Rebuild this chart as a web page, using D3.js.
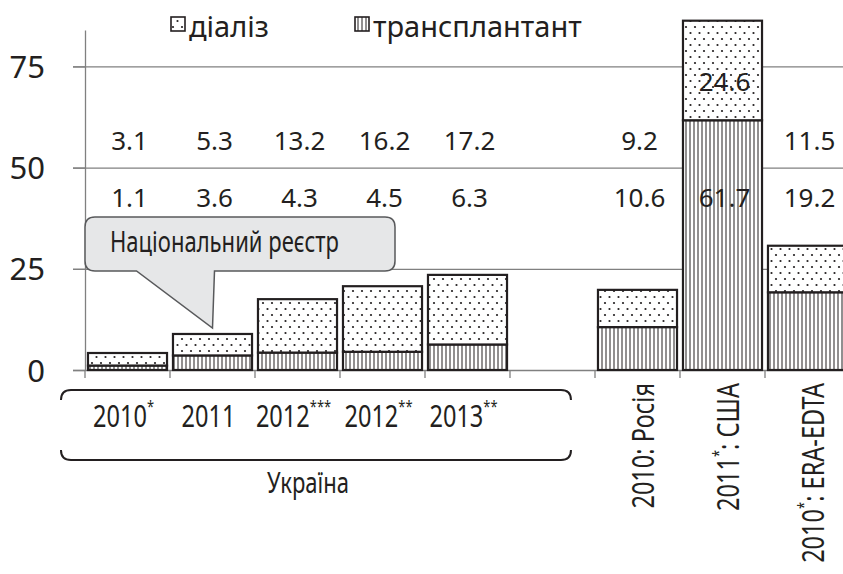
<!DOCTYPE html>
<html>
<head>
<meta charset="utf-8">
<script src="https://cdn.jsdelivr.net/npm/d3@7"></script>
<style>
  body { margin: 0; background: #fff; }
  svg { display: block; }
</style>
</head>
<body>
<svg id="chart" width="843" height="574"></svg>
<script>
// --- data ---
const categories = ['ua2010', 'ua2011', 'ua2012a', 'ua2012b', 'ua2013', 'gap', 'ru2010', 'us2011', 'era2010'];
const yearLabels = ['2010', '2011', '2012', '2012', '2013', '', '2010', '2011', '2010'];
const footnotes = ['*', '', '***', '**', '**', '', '', '*', '*'];
const regionLabels = ['', '', '', '', '', '', ': Росія', ': США', ': ERA-EDTA'];
const transplant = [1.1, 3.6, 4.3, 4.5, 6.3, null, 10.6, 61.7, 19.2];
const dialysis = [3.1, 5.3, 13.2, 16.2, 17.2, null, 9.2, 24.6, 11.5];
const yTicks = [0, 25, 50, 75];
const legendLabels = ['діаліз', 'трансплантант'];
const calloutText = 'Національний реєстр';
const groupLabel = 'Україна';

const W = 843, H = 574;
const ink = '#231f20';
const gridColor = '#808080';
const sans = "'Noto Sans', 'Open Sans', sans-serif";
const squeeze = 0.76; // the source font is a condensed one

const svg = d3.select('#chart');

const x = d3.scaleBand()
  .domain(categories)
  .range([85, 850])
  .paddingInner(0.07)
  .paddingOuter(0.035);

const y = d3.scaleLinear()
  .domain([0, 84])
  .range([370, 30]);

const table = categories.map((c, i) => ({
  key: c, i,
  transplant: transplant[i],
  dialysis: dialysis[i]
}));
const bars = table.filter(d => d.transplant != null);

// condensed text helper: text drawn at origin of a squeezed group
function narrowText(parent, tx, ty, size, rotate = 0) {
  return parent.append('text')
    .attr('transform', `translate(${tx},${ty}) rotate(${rotate}) scale(${squeeze},1)`)
    .attr('font-family', sans)
    .attr('font-size', size)
    .attr('fill', ink);
}

// patterns
const defs = svg.append('defs');
const dots = defs.append('pattern')
  .attr('id', 'dots')
  .attr('patternUnits', 'userSpaceOnUse')
  .attr('width', 9)
  .attr('height', 12);
dots.append('rect').attr('width', 9).attr('height', 12).attr('fill', '#fff');
dots.append('circle').attr('cx', 2).attr('cy', 3).attr('r', 1.1).attr('fill', ink);
dots.append('circle').attr('cx', 6.5).attr('cy', 9).attr('r', 1.1).attr('fill', ink);

const stripes = defs.append('pattern')
  .attr('id', 'stripes')
  .attr('patternUnits', 'userSpaceOnUse')
  .attr('width', 4)
  .attr('height', 4);
stripes.append('rect').attr('width', 4).attr('height', 4).attr('fill', '#fff');
stripes.append('line')
  .attr('x1', 2).attr('x2', 2).attr('y1', 0).attr('y2', 4)
  .attr('stroke', ink).attr('stroke-width', 1);

// grid lines
svg.append('g')
  .attr('class', 'grid')
  .attr('transform', 'translate(73,0)')
  .call(d3.axisRight(y).tickValues(yTicks).tickSize(W - 73).tickFormat(''))
  .call(g => g.select('.domain').remove())
  .selectAll('line')
  .attr('stroke', gridColor)
  .attr('stroke-width', 1.3);

// y axis
const yAxis = svg.append('g')
  .attr('class', 'y-axis')
  .attr('transform', 'translate(85,0)')
  .call(d3.axisLeft(y).tickValues(yTicks).tickSize(12).tickSizeOuter(0).tickPadding(28));
yAxis.select('.domain').attr('stroke', gridColor).attr('stroke-width', 1.3);
yAxis.selectAll('line').attr('stroke', gridColor).attr('stroke-width', 1.3);
yAxis.selectAll('text')
  .attr('font-family', sans)
  .attr('font-size', 31)
  .attr('fill', ink)
  .attr('dy', '0.36em');

// category boundary ticks
const gapHalf = (x.step() - x.bandwidth()) / 2;
const bounds = categories.map(c => x(c) - gapHalf).concat([x(categories[categories.length - 1]) + x.bandwidth() + gapHalf]);
svg.append('g')
  .attr('class', 'x-ticks')
  .selectAll('line')
  .data(bounds)
  .join('line')
  .attr('x1', d => d).attr('x2', d => d)
  .attr('y1', y(0)).attr('y2', y(0) + 8)
  .attr('stroke', gridColor)
  .attr('stroke-width', 1.3);

// bars
const barG = svg.append('g').attr('class', 'bars');
barG.selectAll('.seg-t')
  .data(bars)
  .join('rect')
  .attr('class', 'seg-t')
  .attr('x', d => x(d.key))
  .attr('width', x.bandwidth())
  .attr('y', d => y(d.transplant))
  .attr('height', d => y(0) - y(d.transplant))
  .attr('fill', 'url(#stripes)')
  .attr('stroke', ink)
  .attr('stroke-width', 2.2);

barG.selectAll('.seg-d')
  .data(bars)
  .join('rect')
  .attr('class', 'seg-d')
  .attr('x', d => x(d.key))
  .attr('width', x.bandwidth())
  .attr('y', d => y(d.transplant + d.dialysis))
  .attr('height', d => y(d.transplant) - y(d.transplant + d.dialysis))
  .attr('fill', 'url(#dots)')
  .attr('stroke', ink)
  .attr('stroke-width', 2.2);

// value labels: two rows, unless the bar reaches the row
const dialRowY = 150, transRowY = 207;
const labG = svg.append('g')
  .attr('class', 'value-labels')
  .attr('font-family', sans)
  .attr('font-size', 26)
  .attr('fill', ink)
  .attr('text-anchor', 'middle');

labG.selectAll('.lab-d')
  .data(bars)
  .join('text')
  .attr('class', 'lab-d')
  .attr('x', d => x(d.key) + x.bandwidth() / 2 + 2)
  .attr('y', d => {
    const top = y(d.transplant + d.dialysis);
    if (top < dialRowY) return y(d.transplant + d.dialysis * 0.4) + 11;
    return dialRowY;
  })
  .text(d => d.dialysis);

labG.selectAll('.lab-t')
  .data(bars)
  .join('text')
  .attr('class', 'lab-t')
  .attr('x', d => x(d.key) + x.bandwidth() / 2 + 2)
  .attr('y', transRowY)
  .text(d => d.transplant);

// callout "Національний реєстр"
const tipX = x('ua2011') + x.bandwidth() / 2;
const tipY = y(transplant[1] + dialysis[1]) - 6;
const cL = 85, cR = 395, cT = 217, cB = 271, r = 10;
const callout = d3.path();
callout.moveTo(cL + r, cT);
callout.lineTo(cR - r, cT);
callout.quadraticCurveTo(cR, cT, cR, cT + r);
callout.lineTo(cR, cB - r);
callout.quadraticCurveTo(cR, cB, cR - r, cB);
callout.lineTo(tipX + 2, cB);
callout.lineTo(tipX, tipY);
callout.lineTo(tipX - 76, cB);
callout.lineTo(cL + r, cB);
callout.quadraticCurveTo(cL, cB, cL, cB - r);
callout.lineTo(cL, cT + r);
callout.quadraticCurveTo(cL, cT, cL + r, cT);
callout.closePath();
svg.append('path')
  .attr('d', callout.toString())
  .attr('fill', '#e6e7e8')
  .attr('stroke', '#58595b')
  .attr('stroke-width', 1.5);
narrowText(svg, 110, 252, 29).text(calloutText);

// x labels
const xlabG = svg.append('g').attr('class', 'x-labels');

categories.forEach((c, i) => {
  if (!yearLabels[i]) return;
  const cx = x(c) + x.bandwidth() / 2;
  if (!regionLabels[i]) {
    const t = narrowText(xlabG, cx - 4, 427, 31).attr('text-anchor', 'middle');
    t.append('tspan').text(yearLabels[i]);
    if (footnotes[i]) {
      t.append('tspan').attr('dy', -15).attr('font-size', 17).text(footnotes[i]);
    }
  } else {
    const t = narrowText(xlabG, cx + 16, 383, 31, -90).attr('text-anchor', 'end');
    t.append('tspan').text(yearLabels[i]);
    if (footnotes[i]) {
      t.append('tspan').attr('dy', -15).attr('font-size', 17).text(footnotes[i]);
      t.append('tspan').attr('dy', 15).text(regionLabels[i]);
    } else {
      t.append('tspan').text(regionLabels[i]);
    }
  }
});

// bracket around the Ukrainian group
const bL = x('ua2010') - 27;
const bR = x('gap') + 58;
const bracket = svg.append('g')
  .attr('class', 'bracket')
  .attr('fill', 'none')
  .attr('stroke', ink)
  .attr('stroke-width', 2);
bracket.append('path')
  .attr('d', `M${bL},400 Q${bL},390 ${bL + 10},390 H${bR - 10} Q${bR},390 ${bR},400`);
bracket.append('path')
  .attr('d', `M${bL},450 Q${bL},460 ${bL + 10},460 H${bR - 10} Q${bR},460 ${bR},450`);

narrowText(svg, 308, 493, 29).attr('text-anchor', 'middle').text(groupLabel);

// legend
const legend = svg.append('g')
  .attr('class', 'legend')
  .attr('font-family', sans)
  .attr('font-size', 29)
  .attr('fill', ink);
const legendItems = [
  { label: legendLabels[0], fill: 'url(#dots)', x: 171 },
  { label: legendLabels[1], fill: 'url(#stripes)', x: 355 }
];
legendItems.forEach(d => {
  legend.append('rect')
    .attr('x', d.x).attr('y', 17)
    .attr('width', 14).attr('height', 14)
    .attr('fill', d.fill)
    .attr('stroke', ink)
    .attr('stroke-width', 1.6);
  legend.append('text')
    .attr('x', d.x + 18)
    .attr('y', 37)
    .text(d.label);
});
</script>
</body>
</html>
